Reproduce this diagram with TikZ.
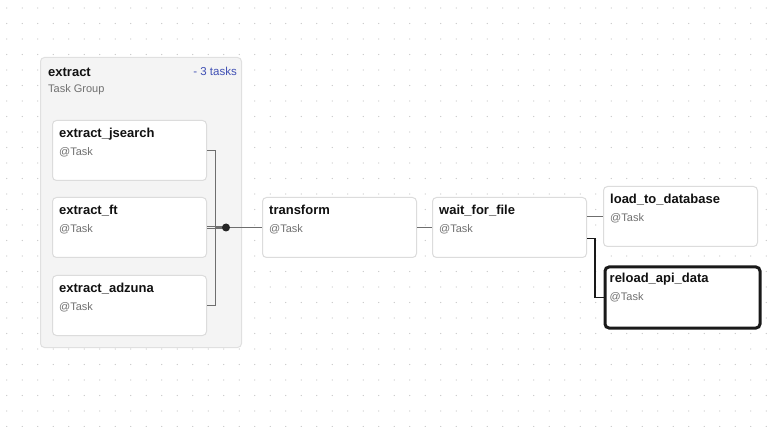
\documentclass[tikz,border=0pt]{standalone}
\usepackage{fontspec}
\setmainfont{Liberation Sans}
\usepackage{tikz}
\usetikzlibrary{calc,positioning}
\usepackage{xcolor}
\definecolor{dotgray}{HTML}{C4C4C4}
\definecolor{groupfill}{HTML}{F4F4F4}
\definecolor{groupline}{HTML}{E0E0E0}
\definecolor{boxline}{HTML}{DCDCDC}
\definecolor{subgray}{HTML}{707070}
\definecolor{edgegray}{HTML}{6E6E6E}
\definecolor{taskblue}{HTML}{3F4FB4}
\definecolor{titleblack}{HTML}{111111}
\tikzset{
  groupbox/.style={
    draw=groupline,
    fill=groupfill,
    rectangle,
    rounded corners=4pt,
    anchor=north west,
    minimum width=201pt,
    minimum height=290pt,
    line width=1pt,
  },
  taskbox/.style={
    draw=boxline,
    fill=white,
    rectangle,
    rounded corners=4pt,
    anchor=north west,
    minimum width=154pt,
    minimum height=60pt,
    line width=1pt,
  },
  selbox/.style={
    taskbox,
    draw=black!90,
    line width=3pt,
    minimum width=155pt,
    minimum height=61pt,
  },
  tasktitle/.style={anchor=base west, inner sep=0pt, text=titleblack,
    font=\fontsize{13}{15}\selectfont\bfseries},
  tasksub/.style={anchor=base west, inner sep=0pt, text=subgray,
    font=\fontsize{11}{13}\selectfont},
  joindot/.style={circle, fill=black!85, minimum size=8pt, inner sep=0pt},
  edge/.style={draw=edgegray, line width=1pt},
  seledge/.style={draw=black!90, line width=1.8pt},
}
\begin{document}
\begin{tikzpicture}[x=1pt, y=-1pt]
  \fill[white] (0,0) rectangle (778,427);
  \useasboundingbox (0,0) rectangle (778,427);
  % dot grid
  \foreach \i in {0,...,49} {
    \foreach \j in {0,...,27} {
      \fill[dotgray] (6.8+15.5*\i, 8+15.5*\j) circle (0.65pt);
    }
  }
  % task group
  \node[groupbox] (group) at (40,57) {};
  \node[tasktitle] (group-t) at ([xshift=8pt, yshift=-19.5pt]group.north west) {extract};
  \node[tasksub] (group-s) at ([xshift=8pt, yshift=-36pt]group.north west) {Task Group};
  \node[tasktitle, anchor=base east, text=taskblue, font=\fontsize{11.5}{13}\selectfont]
    (group-n) at ([xshift=-5pt, yshift=-18.5pt]group.north east) {- 3 tasks};
  % tasks
  \foreach \n/\x/\y/\t in {jsearch/52/120/extract\_jsearch,
                           ft/52/197/extract\_ft,
                           adzuna/52/275/extract\_adzuna,
                           transform/262/197/transform,
                           wait/432/197/wait\_for\_file,
                           load/603/186/load\_to\_database} {
    \node[taskbox] (\n) at (\x,\y) {};
    \node[tasktitle] (\n-t) at ([xshift=7pt, yshift=-18pt]\n.north west) {\t};
    \node[tasksub] (\n-s) at ([xshift=7pt, yshift=-35.5pt]\n.north west) {@Task};
  }
  \node[selbox] (reload) at (603.5,265.5) {};
  \node[tasktitle] (reload-t) at ([xshift=6pt, yshift=-17pt]reload.north west) {reload\_api\_data};
  \node[tasksub] (reload-s) at ([xshift=6pt, yshift=-34.5pt]reload.north west) {@Task};
  % edges
  \coordinate (joinc) at (226,227.5);
  \draw[edge] ([yshift=1.2pt]ft.east) -- ([yshift=1.2pt]joinc);
  \draw[edge] ([yshift=-1.2pt]ft.east) -- ([yshift=-1.2pt]joinc);
  \draw[edge] (jsearch.east) -- ++(8,0) |- (joinc);
  \draw[edge] (adzuna.east) -- ++(8,0) |- (joinc);
  \draw[edge] (joinc) -- (transform.west |- joinc);
  \node[joindot] (join) at (joinc) {};
  \draw[edge] (transform.east) -- (wait.west);
  \draw[edge] (wait.east |- load.west) -- (load.west);
  \draw[seledge] ([yshift=-11pt]wait.east) -- ++(8,0) |- (reload.west);
\end{tikzpicture}
\end{document}
